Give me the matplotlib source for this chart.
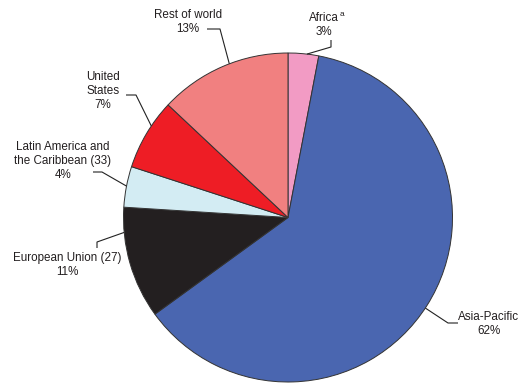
import numpy as np
import matplotlib.pyplot as plt

plt.rcParams['font.family'] = ['Liberation Sans', 'DejaVu Sans']

# Data (share of total, %), clockwise from 12 o'clock
regions = ["Africa", "Asia-Pacific", "European Union (27)",
           "Latin America and\nthe Caribbean (33)", "United\nStates", "Rest of world"]
shares = [3, 62, 11, 4, 7, 13]
colors = ["#F29BC4", "#4A66B0", "#231F20", "#D3ECF3", "#EE1D25", "#F18080"]

W, H = 520, 383
fig = plt.figure(figsize=(W / 100, H / 100), dpi=100)
ax = fig.add_axes([0, 0, 1, 1])

cx, cy, r = 288, H - 217.5, 164.5
wedges, _ = ax.pie(shares, colors=colors, startangle=90, counterclock=False,
                   center=(cx, cy), radius=r,
                   wedgeprops=dict(edgecolor="#333333", linewidth=0.7))
ax.set_xlim(0, W)
ax.set_ylim(0, H)
ax.set_aspect("equal")
ax.axis("off")


def py(y):
    return H - y


# label layout: (text x, first line y, angle of leader on rim, leader path in px)
layout = [
    (323.5, 18, 83.4, [(331, 47), (331, 40)]),
    (489, 317, -33.4, [(448, 323), (458, 323)]),
    (67, 258, 185.2, [(97, 242), (97, 248)]),
    (63, 147, 169.0, [(102, 172), (93, 172)]),
    (103, 77, 146.2, [(136, 95), (126, 95)]),
    (188, 15, 110.9, [(220, 29), (207, 29)]),
]

for name, share, (tx, ty, ang, path) in zip(regions, shares, layout):
    a = np.deg2rad(ang)
    xs = [cx + r * np.cos(a)] + [p[0] for p in path]
    ys = [cy + r * np.sin(a)] + [py(p[1]) for p in path]
    ax.plot(xs, ys, color="#222222", linewidth=0.8, solid_capstyle="butt")
    lines = name.split("\n") + [f"{share}%"]
    for i, line in enumerate(lines):
        ax.text(tx, py(ty + i * 14), line, ha="center", va="center",
                fontsize=8.4, color="#231F20")

# superscript note on Africa
ax.text(342, py(14), "a", ha="center", va="center", fontsize=6, color="#231F20")

fig.savefig("out.png", dpi=100)
